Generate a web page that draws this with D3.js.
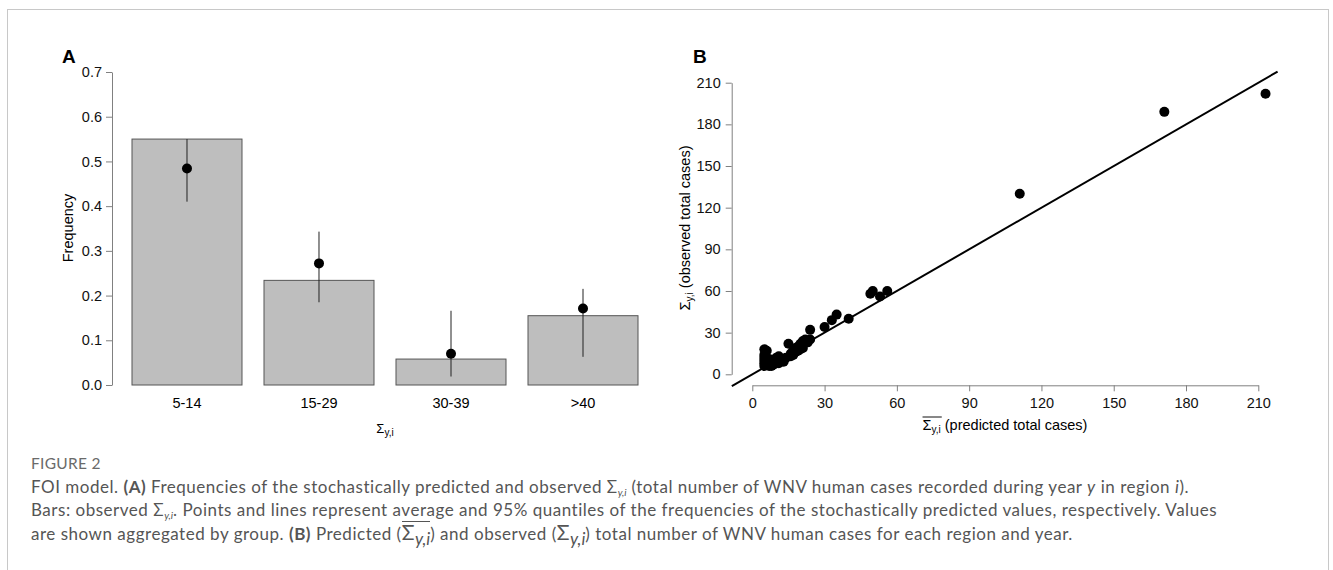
<!DOCTYPE html>
<html>
<head>
<meta charset="utf-8">
<script src="https://cdn.jsdelivr.net/npm/d3@7"></script>
<style>
  body { margin: 0; background: #fff; }
  #wrap { position: relative; width: 1333px; height: 570px; overflow: hidden; }
  #frame { position: absolute; left: 7px; top: 9px; width: 1322px; height: 600px; border: 1px solid #c8c8c8; box-sizing: border-box; }
  #chart { position: absolute; left: 0; top: 0; }
  #caption { position: absolute; left: 31px; top: 452px; width: 1290px; font-family: Lato, sans-serif; color: #555; font-size: 17px; letter-spacing: 0.52px; line-height: 23px; white-space: nowrap; }
  #caption .fig { font-size: 15.5px; color: #6a6a6a; letter-spacing: 0.3px; }
  #caption b { color: #555; font-weight: 700; }
  #caption sub { font-size: 10px; font-style: italic; vertical-align: -3px; line-height: 0; letter-spacing: 0; }
  #caption .big { font-size: 21px; line-height: 0; letter-spacing: 0.5px; }
  #caption .ov { display: inline-block; line-height: 20px; border-top: 1px solid #555; }
  #caption .big sub { font-size: 17px; vertical-align: -5px; }
  text { font-family: "Liberation Sans", Arial, sans-serif; }
</style>
</head>
<body>
<div id="wrap">
  <div id="frame"></div>
  <svg id="chart" width="1333" height="570"></svg>
  <div id="caption">
    <div class="fig">FIGURE 2</div>
    <div>FOI model. <b>(A)</b> Frequencies of the stochastically predicted and observed &Sigma;<sub>y,i</sub> (total number of WNV human cases recorded during year <i>y</i> in region <i>i</i>).</div>
    <div>Bars: observed &Sigma;<sub>y,i</sub>. Points and lines represent average and 95% quantiles of the frequencies of the stochastically predicted values, respectively. Values</div>
    <div>are shown aggregated by group. <b>(B)</b> Predicted (<span class="big ov">&Sigma;<sub>y,i</sub></span>) and observed (<span class="big">&Sigma;<sub>y,i</sub></span>) total number of WNV human cases for each region and year.</div>
  </div>
</div>
<script>
// panel A data
var categories = ['5-14', '15-29', '30-39', '>40'];
var observedFreq = [0.55, 0.234, 0.058, 0.155];
var predMean = [0.484, 0.272, 0.07, 0.171];
var predLow = [0.41, 0.185, 0.019, 0.063];
var predHigh = [0.55, 0.343, 0.166, 0.215];
var freqTicks = [0, 0.1, 0.2, 0.3, 0.4, 0.5, 0.6, 0.7];

// panel B data (predicted, observed)
var predicted = [5, 6, 5, 5, 5, 5, 5, 6, 6, 7, 7, 8, 8, 9, 9, 10, 10, 11, 11, 12, 13, 13, 14, 15, 16, 16, 17, 17, 18, 18, 19, 19, 20, 20, 21, 21, 22, 23, 24, 24, 30, 33, 35, 40, 49, 50, 53, 56, 111, 171, 213];
var observed = [18, 17, 14, 12, 10, 8, 6, 7, 9, 6, 11, 6, 8, 7, 10, 12, 9, 13, 8, 11, 10, 9, 12, 22, 13, 15, 14, 17, 16, 19, 20, 17, 22, 18, 24, 19, 25, 23, 32, 25, 34, 39, 43, 40, 58, 60, 56, 60, 130, 189, 202];
var casesTicks = [0, 30, 60, 90, 120, 150, 180, 210];
var identityLine = [-8.5, 218];

var svg = d3.select('#chart');
var axisColor = '#808080';
var tickFont = '14.5px';
var labFont = '14.5px';
var subFont = '10px';

// ---------- panel A ----------
var xa = d3.scaleBand().domain(categories).range([112, 658]).paddingInner(0.1667).paddingOuter(0.1515);
var ya = d3.scaleLinear().domain([0, 0.7]).range([385, 72]);

var gA = svg.append('g');

gA.selectAll('rect').data(categories)
    .enter()
    .append('rect')
    .attr('x', function (d) { return xa(d); })
    .attr('y', function (d, i) { return ya(observedFreq[i]); })
    .attr('width', xa.bandwidth())
    .attr('height', function (d, i) { return ya(0) - ya(observedFreq[i]); })
    .style('fill', '#bebebe')
    .style('stroke', '#555')
    .style('stroke-width', 1);

gA.selectAll('line.err').data(categories)
    .enter()
    .append('line')
    .attr('class', 'err')
    .attr('x1', function (d) { return xa(d) + xa.bandwidth() / 2; })
    .attr('x2', function (d) { return xa(d) + xa.bandwidth() / 2; })
    .attr('y1', function (d, i) { return ya(predLow[i]); })
    .attr('y2', function (d, i) { return ya(predHigh[i]); })
    .style('stroke', '#222')
    .style('stroke-width', 1);

gA.selectAll('circle').data(categories)
    .enter()
    .append('circle')
    .attr('r', 5)
    .attr('cx', function (d) { return xa(d) + xa.bandwidth() / 2; })
    .attr('cy', function (d, i) { return ya(predMean[i]); })
    .style('fill', '#000');

var axA = gA.append('g')
    .attr('transform', 'translate(112,0)')
    .call(d3.axisLeft(ya).tickValues(freqTicks).tickFormat(d3.format('.1f')).tickSize(6).tickSizeOuter(0).tickPadding(4));
axA.select('.domain').attr('stroke', axisColor);
axA.selectAll('.tick line').attr('stroke', axisColor);
axA.selectAll('.tick text').style('font-size', tickFont).attr('fill', '#111');

gA.selectAll('text.cat').data(categories)
    .enter()
    .append('text')
    .attr('class', 'cat')
    .attr('x', function (d) { return xa(d) + xa.bandwidth() / 2; })
    .attr('y', 408)
    .attr('text-anchor', 'middle')
    .style('font-size', tickFont)
    .text(function (d) { return d; });

gA.append('text')
    .attr('transform', 'translate(73,228) rotate(-90)')
    .attr('text-anchor', 'middle')
    .style('font-size', labFont)
    .text('Frequency');

var xlabA = gA.append('text')
    .attr('x', 385)
    .attr('y', 433)
    .attr('text-anchor', 'middle')
    .style('font-size', '13px');
xlabA.append('tspan').text('\u03A3');
xlabA.append('tspan').attr('dy', 3).style('font-size', subFont).text('y,i');

gA.append('text')
    .attr('x', 62)
    .attr('y', 63)
    .style('font-size', '19px')
    .style('font-weight', 'bold')
    .text('A');

// ---------- panel B ----------
var xb = d3.scaleLinear().domain([0, 210]).range([752.3, 1258.3]);
var yb = d3.scaleLinear().domain([0, 210]).range([374.3, 82.7]);

var gB = svg.append('g');

gB.append('line')
    .attr('x1', xb(identityLine[0]))
    .attr('y1', yb(identityLine[0]))
    .attr('x2', xb(identityLine[1]))
    .attr('y2', yb(identityLine[1]))
    .style('stroke', '#000')
    .style('stroke-width', 2);

gB.selectAll('circle').data(predicted)
    .enter()
    .append('circle')
    .attr('r', 5)
    .attr('cx', function (d) { return xb(d); })
    .attr('cy', function (d, i) { return yb(observed[i]); })
    .style('fill', '#000');

var axBy = gB.append('g')
    .attr('transform', 'translate(731.7,0)')
    .call(d3.axisLeft(yb).tickValues(casesTicks).tickFormat(d3.format('d')).tickSize(6).tickSizeOuter(0).tickPadding(5));
var axBx = gB.append('g')
    .attr('transform', 'translate(0,385.3)')
    .call(d3.axisBottom(xb).tickValues(casesTicks).tickFormat(d3.format('d')).tickSize(6).tickSizeOuter(0).tickPadding(6));
[axBy, axBx].forEach(function (ax) {
    ax.select('.domain').attr('stroke', axisColor);
    ax.selectAll('.tick line').attr('stroke', axisColor);
    ax.selectAll('.tick text').style('font-size', tickFont).attr('fill', '#111');
});

var ylabB = gB.append('text')
    .attr('transform', 'translate(690,228) rotate(-90)')
    .attr('text-anchor', 'middle')
    .style('font-size', labFont);
ylabB.append('tspan').text('\u03A3');
ylabB.append('tspan').attr('dy', 3).style('font-size', subFont).text('y,i');
ylabB.append('tspan').attr('dy', -3).style('font-size', labFont).text(' (observed total cases)');

var xlabB = gB.append('text')
    .attr('x', 1005)
    .attr('y', 430)
    .attr('text-anchor', 'middle')
    .style('font-size', labFont);
xlabB.append('tspan').text('\u03A3');
xlabB.append('tspan').attr('dy', 3).style('font-size', subFont).text('y,i');
xlabB.append('tspan').attr('dy', -3).style('font-size', labFont).text(' (predicted total cases)');

// overline over the sigma part
var sigNode = xlabB.node();
var sx0 = sigNode.getStartPositionOfChar(0).x;
var sx1 = sigNode.getEndPositionOfChar(3).x;
gB.append('line')
    .attr('x1', sx0)
    .attr('x2', sx1 + 1)
    .attr('y1', 417)
    .attr('y2', 417)
    .style('stroke', '#111')
    .style('stroke-width', 1);

gB.append('text')
    .attr('x', 693)
    .attr('y', 63)
    .style('font-size', '19px')
    .style('font-weight', 'bold')
    .text('B');
</script>
</body>
</html>
